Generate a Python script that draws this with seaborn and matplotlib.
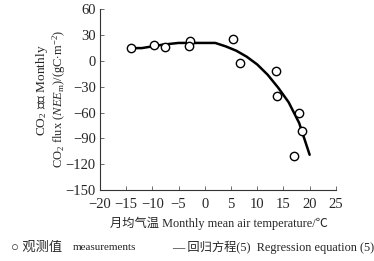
import matplotlib
matplotlib.use('Agg')
import matplotlib.pyplot as plt
import seaborn as sns
import pandas as pd

# observed monthly values
obs_temp = [-14.0, -9.7, -7.5, -2.8, -3.0, 5.3, 6.8, 13.6, 13.8, 18.0, 18.6, 17.1]
obs_nee = [15, 19, 16, 23, 17, 25, -2, -12, -41, -60, -81, -110]

# regression curve (5)
fit_temp = [-14, -12, -10, -8, -5, -3, 0, 2, 4, 6, 8, 10, 12, 14, 16, 18, 20]
fit_nee = [15, 15, 17, 19, 21, 21, 21, 21, 17, 12, 5, -4, -16, -31, -48, -72, -109]

x_ticks = [-20, -15, -10, -5, 0, 5, 10, 15, 20, 25]
y_ticks = [-150, -120, -90, -60, -30, 0, 30, 60]

sns.set_style('ticks')
FONTS = ['Liberation Serif', 'Noto Sans CJK SC', 'DejaVu Sans']
plt.rcParams['font.family'] = FONTS
plt.rcParams['mathtext.fontset'] = 'custom'
plt.rcParams['mathtext.rm'] = 'Liberation Serif'
plt.rcParams['mathtext.it'] = 'Liberation Serif:italic'

df_obs = pd.DataFrame({'t': obs_temp, 'nee': obs_nee})
df_fit = pd.DataFrame({'t': fit_temp, 'nee': fit_nee})

fig = plt.figure(figsize=(3.74, 2.61), dpi=100)
ax = fig.add_axes([0.267, 0.272, 0.631, 0.692])

sns.lineplot(data=df_fit, x='t', y='nee', color='black', linewidth=1.8, ax=ax)
sns.scatterplot(data=df_obs, x='t', y='nee', marker='o', s=36, facecolor='white',
                edgecolor='black', linewidth=1.0, ax=ax, zorder=3)

ax.set_xlim(-20, 25)
ax.set_ylim(-150, 60)
ax.set_xticks(x_ticks)
ax.set_yticks(y_ticks)
ax.set_xticklabels(['\u2212' + str(-v) if v < 0 else str(v) for v in x_ticks])
ax.set_yticklabels(['\u2212' + str(-v) if v < 0 else str(v) for v in y_ticks])
ax.tick_params(direction='in', length=3, width=0.6, labelsize=10.5, pad=3, color='#555555')
ax.tick_params(axis='x', pad=6)
for s in ['top', 'right']:
    ax.spines[s].set_visible(False)
for s in ['left', 'bottom']:
    ax.spines[s].set_linewidth(0.8)
    ax.spines[s].set_color('#333333')
ax.set_xlabel('')
ax.set_ylabel('')

fig.text(0.585, 0.145, '月均气温 Monthly mean air temperature/\u2103', ha='center', va='center',
         fontsize=8.8, family=FONTS)
fig.text(0.112, 0.655, 'CO$_2$ 通量 Monthly', rotation=90, ha='center', va='center',
         fontsize=9.6, family=FONTS)
fig.text(0.158, 0.62, 'CO$_2$ flux ($NEE_{\\mathrm{m}}$)/(gC$\\cdot$m$^{-2}$)', rotation=90,
         ha='center', va='center', fontsize=9, family=FONTS)

fig.text(0.03, 0.052, '\u25cb 观测值', ha='left', va='center', fontsize=9.5, family=FONTS)
fig.text(0.195, 0.052, 'measurements', ha='left', va='center', fontsize=8, family=FONTS)
fig.text(0.46, 0.052, '\u2014 回归方程(5)  Regression equation (5)', ha='left', va='center',
         fontsize=8.8, family=FONTS)

fig.savefig('out.png', dpi=100)
